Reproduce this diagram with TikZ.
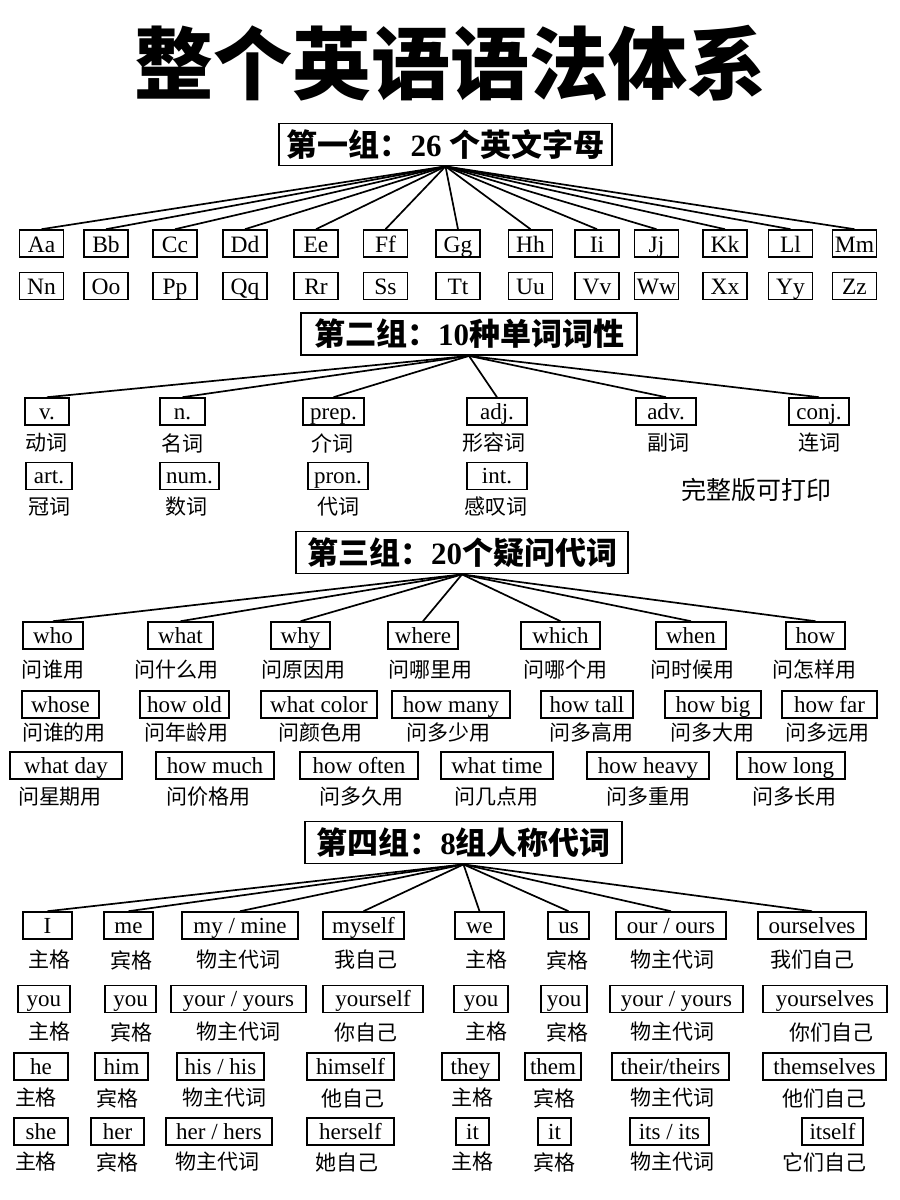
\documentclass[tikz,border=0pt]{standalone}
\usepackage{fontspec}
\setmainfont{Liberation Serif}
\newfontfamily\cjk{Noto Sans CJK SC}
\usetikzlibrary{positioning}

\begin{document}
\begin{tikzpicture}[
  x=1pt, y=-1pt,
  hdr/.style={
    draw, line width=1.8pt, minimum height=42pt,
    inner sep=0pt, font=\fontsize{31}{32}\selectfont
  },
  wbox/.style={
    draw, line width=1.6pt, minimum height=27pt,
    inner sep=0pt, text height=18pt, text depth=3pt,
    font=\fontsize{23}{23}\selectfont
  },
  abc/.style={wbox, minimum width=44pt, text height=20pt, font=\fontsize{23.5}{23.5}\selectfont},
  cn/.style={font=\cjk\fontsize{21}{21}\selectfont, inner sep=0pt},
  branch/.style={line width=1.7pt}
]
\useasboundingbox (0,0) rectangle (900,1200);

% ---- Titre ----
\node[font=\cjk\bfseries\fontsize{79}{79}\selectfont, inner sep=0pt] (title) at (450,63) {整个英语语法体系};

% ---- Groupe 1 : lettres ----
\node[hdr, minimum width=333pt] (g1) at (445.5,144.5)
  {{\cjk\bfseries 第一组：}\textbf{26} {\cjk\bfseries 个英文字母}};

\foreach \x/\t [count=\i] in {41.5/Aa, 106/Bb, 175/Cc, 245/Dd, 316/Ee, 385.5/Ff, 458/Gg,
    530.5/Hh, 597/Ii, 656.5/Jj, 725/Kk, 790.5/Ll, 854.5/Mm}
  \node[abc] (ab\i) at (\x,243.5) {\t};
\foreach \x/\t [count=\i from 14] in {41.5/Nn, 106/Oo, 175/Pp, 245/Qq, 316/Rr, 385.5/Ss, 458/Tt,
    530.5/Uu, 597/Vv, 656.5/Ww, 725/Xx, 790.5/Yy, 854.5/Zz}
  \node[abc] (ab\i) at (\x,286) {\t};

\foreach \i in {1,...,13}
  \draw[branch] (g1.south) -- (ab\i.north);

% ---- Groupe 2 : parties du discours ----
\node[hdr, minimum width=336pt] (g2) at (469,334)
  {{\cjk\bfseries 第二组：}\textbf{10}{\cjk\bfseries 种单词词性}};

\foreach \x/\w/\t [count=\i] in {47/44/v., 182.5/45/n., 333.5/61/prep., 497/60/adj.,
    666/60/adv., 819/60/conj.}
  \node[wbox, minimum width=\w] (pos\i) at (\x,411.5) {\t};
\foreach \x/\t in {46/动词, 182/名词, 332/介词, 494/形容词, 668/副词, 819/连词}
  \node[cn] at (\x,443) {\t};

\foreach \x/\w/\t [count=\i from 7] in {49/46/art., 189.5/59/num., 338/60/pron., 497/60/int.}
  \node[wbox, minimum width=\w] (pos\i) at (\x,476) {\t};
\foreach \x/\t in {49/冠词, 186/数词, 338/代词, 496/感叹词}
  \node[cn] at (\x,507) {\t};

\node[font=\cjk\fontsize{25}{25}\selectfont, inner sep=0pt] (note) at (756,490) {完整版可打印};

\foreach \i in {1,...,6}
  \draw[branch] (g2.south) -- (pos\i.north);

% ---- Groupe 3 : pronoms interrogatifs ----
\node[hdr, minimum width=332pt] (g3) at (462,552.5)
  {{\cjk\bfseries 第三组：}\textbf{20}{\cjk\bfseries 个疑问代词}};

\foreach \x/\w/\t [count=\i] in {53/60/who, 180.5/65/what, 300.5/59/why, 423/70/where,
    560.5/79/which, 691/70/when, 815.5/59/how}
  \node[wbox, minimum width=\w] (wh\i) at (\x,635.5) {\t};
\foreach \x/\t in {53/问谁用, 176/问什么用, 303/问原因用, 430/问哪里用, 565/问哪个用,
    692/问时候用, 814/问怎样用}
  \node[cn] at (\x,670) {\t};

\foreach \x/\w/\t [count=\i from 8] in {60.5/77/whose, 184.5/89/how old, 319/116/what color,
    451/118/how many, 587/92/how tall, 713/96/how big, 829.5/95/how far}
  \node[wbox, minimum width=\w] (wh\i) at (\x,704.5) {\t};
\foreach \x/\t in {64/问谁的用, 186/问年龄用, 320/问颜色用, 448/问多少用, 591/问多高用,
    712/问多大用, 827/问多远用}
  \node[cn] at (\x,733) {\t};

\foreach \x/\w/\t [count=\i from 15] in {66/112/what day, 215/118/how much, 359/118/how often,
    497/112/what time, 648/122/how heavy, 791/108/how long}
  \node[wbox, minimum width=\w] (wh\i) at (\x,765.5) {\t};
\foreach \x/\t in {60/问星期用, 208/问价格用, 361/问多久用, 496/问几点用, 648/问多重用,
    794/问多长用}
  \node[cn] at (\x,797) {\t};

\foreach \i in {1,...,7}
  \draw[branch] (g3.south) -- (wh\i.north);

% ---- Groupe 4 : pronoms personnels ----
\node[hdr, minimum width=317pt] (g4) at (463.5,842.5)
  {{\cjk\bfseries 第四组：}\textbf{8}{\cjk\bfseries 组人称代词}};

\foreach \x/\w/\t [count=\i] in {47.5/49/I, 128.5/49/me, 240/116/{my / mine}, 363.5/81/myself,
    479.5/49/we, 568.5/41/us, 671/110/{our / ours}, 812/108/ourselves}
  \node[wbox, minimum width=\w] (pr\i) at (\x,925.5) {\t};
\foreach \x/\t in {49/主格, 131/宾格, 238/物主代词, 366/我自己, 486/主格, 567/宾格,
    672/物主代词, 812/我们自己}
  \node[cn] at (\x,960) {\t};

\foreach \x/\w/\t [count=\i from 9] in {44/52/you, 130.5/51/you, 238.5/135/{your / yours},
    373/100/yourself, 481/54/you, 564/46/you, 676.5/133/{your / yours}, 825/124/yourselves}
  \node[wbox, minimum width=\w] (pr\i) at (\x,999) {\t};
\foreach \x/\t in {49/主格, 131/宾格, 238/物主代词, 366/你自己, 486/主格, 567/宾格,
    672/物主代词, 831/你们自己}
  \node[cn] at (\x,1032) {\t};

\foreach \x/\w/\t [count=\i from 17] in {41/54/he, 121.5/53/him, 220.5/87/{his / his},
    350.5/87/himself, 470.5/57/they, 553/56/them, 670.5/117/{their/theirs}, 824.5/123/themselves}
  \node[wbox, minimum width=\w] (pr\i) at (\x,1066.5) {\t};
\foreach \x/\t in {36/主格, 117/宾格, 224/物主代词, 353/他自己, 472/主格, 554/宾格,
    672/物主代词, 824/他们自己}
  \node[cn] at (\x,1098) {\t};

\foreach \x/\w/\t [count=\i from 25] in {41/54/she, 117.5/53/her, 219/106/{her / hers},
    350.5/87/herself, 472.5/33/it, 554.5/33/it, 669.5/79/{its / its}, 832.5/61/itself}
  \node[wbox, minimum width=\w] (pr\i) at (\x,1131.5) {\t};
\foreach \x/\t in {36/主格, 117/宾格, 217/物主代词, 347/她自己, 472/主格, 554/宾格,
    672/物主代词, 824/它们自己}
  \node[cn] at (\x,1162) {\t};

\foreach \i in {1,...,8}
  \draw[branch] (g4.south) -- (pr\i.north);

\end{tikzpicture}
\end{document}
